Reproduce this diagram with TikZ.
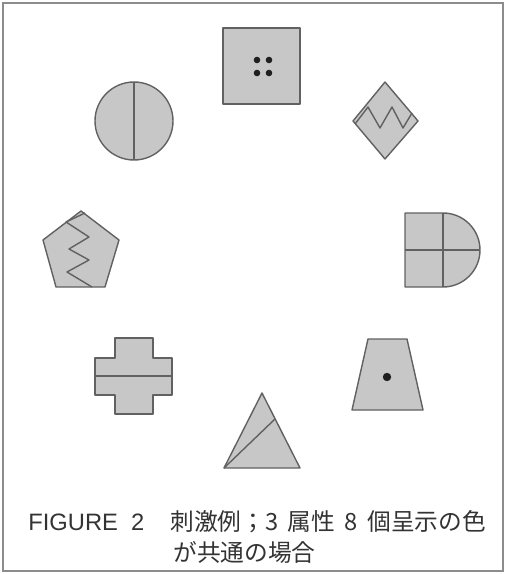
\documentclass[tikz,border=0pt]{standalone}
\usepackage{fontspec}
\setmainfont{Liberation Sans}
\newfontfamily\jp{Noto Sans CJK JP}
\begin{document}
\begin{tikzpicture}[x=0.02cm,y=-0.02cm,
  shp/.style={draw=black!62, fill=black!22, line width=0.8pt, line join=round},
  ln/.style={draw=black!62, line width=0.8pt, line join=round},
  dotf/.style={fill=black!88},
  captxt/.style={text=black!80, inner sep=0pt, font=\fontsize{13.5}{16}\selectfont}]
\useasboundingbox (0,0) rectangle (505,574);
\draw[black!45, line width=0.9pt] (3,3) rectangle (503,571);
% square with four dots
\draw[shp] (223,28) rectangle (300,104);
\foreach \p in {(257,60),(269,60),(257,73),(269,73)} \fill[dotf] \p circle (3.3);
% diamond with zigzag
\draw[shp] (385,82) -- (418,121) -- (385,159) -- (353,121) -- cycle;
\draw[ln] (355,124) -- (368,107) -- (380,128) -- (392,107) -- (403,128) -- (412,113);
% circle with vertical line
\draw[shp] (134,121) circle (39);
\draw[ln] (134,82) -- (134,160);
% pentagon with zigzag
\draw[shp] (81,211) -- (119,240) -- (105,287) -- (56,287) -- (43,240) -- cycle;
\draw[ln] (85,213) -- (66,222) -- (89,237) -- (69,249) -- (89,260) -- (67,272) -- (92,287);
% D shape
\draw[shp] (405,213) -- (443,213) arc[start angle=-90, end angle=90, radius=37] -- (405,287) -- cycle;
\draw[ln] (443,213) -- (443,287);
\draw[ln] (405,250) -- (480,250);
% cross
\draw[shp] (115,338) -- (153,338) -- (153,358) -- (172,358) -- (172,395) -- (153,395) -- (153,414) -- (115,414) -- (115,395) -- (95,395) -- (95,358) -- (115,358) -- cycle;
\draw[ln] (95,376) -- (172,376);
% trapezoid with dot
\draw[shp] (368,339) -- (407,339) -- (423,410) -- (352,410) -- cycle;
\fill[dotf] (387,377) circle (4.2);
% triangle with line
\draw[shp] (262,393) -- (300,468) -- (224,468) -- cycle;
\draw[ln] (224,468) -- (275,419);
% caption
\node[captxt, anchor=base west] (fig) at (28,530) {FIGURE\hspace{0.55em}2};
\node[captxt, anchor=base west] (cap1) at (170,530) {\jp 刺激例；3\hspace{0.4em}属性\hspace{0.4em}8\hspace{0.4em}個呈示の色};
\node[captxt, anchor=base west] (cap2) at (173,561) {\jp が共通の場合};
\end{tikzpicture}
\end{document}
